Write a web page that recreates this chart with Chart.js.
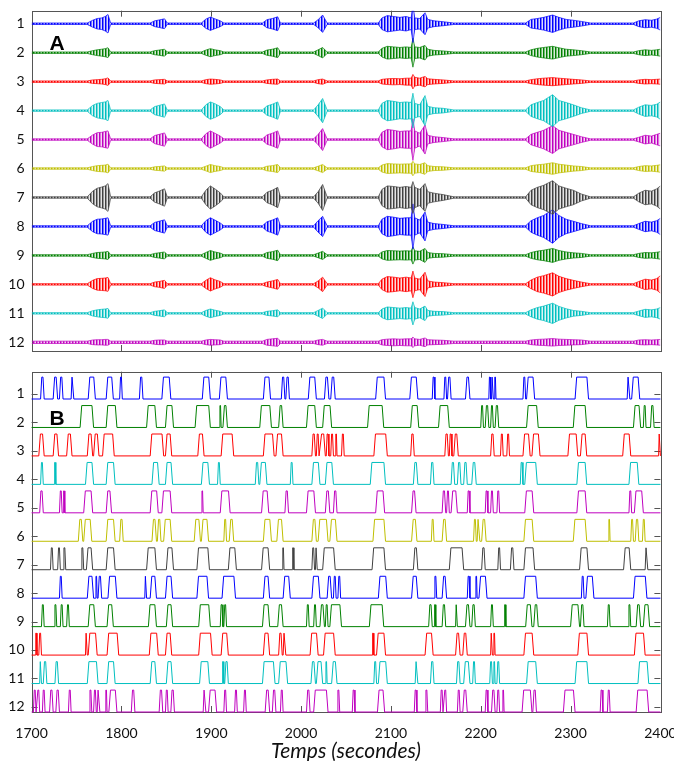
<!DOCTYPE html>
<html>
<head>
<meta charset="utf-8">
<script src="https://cdn.jsdelivr.net/npm/chart.js@4.4.1/dist/chart.umd.min.js"></script>
<style>
  body { margin: 0; background: #fff; }
  canvas { display: block; }
</style>
</head>
<body>
<canvas id="chartA" width="674" height="360"></canvas>
<canvas id="chartB" width="674" height="401"></canvas>
<script>
// x axis ticks (seconds) and lane labels
const timeTicks = [1700, 1800, 1900, 2000, 2100, 2200, 2300, 2400];
const laneLabels = ['1', '2', '3', '4', '5', '6', '7', '8', '9', '10', '11', '12'];
const traceColors = ['#0000ff', '#008000', '#ff0000', '#00bfbf', '#bf00bf', '#bfbf00',
                     '#404040', '#0000ff', '#008000', '#ff0000', '#00bfbf', '#bf00bf'];

// Panel A: envelope of each seismic trace, sampled at these times
const seisTimes = [1700, 1762, 1768, 1773, 1778, 1782, 1785, 1788,
                   1832, 1837, 1842, 1848, 1851,
                   1889, 1894, 1899, 1904, 1910, 1914,
                   1957, 1962, 1968, 1974, 1977,
                   2014, 2019, 2024, 2029,
                   2086, 2090, 2096, 2103, 2110, 2117, 2122.5, 2124.5, 2126.5, 2132, 2138, 2141, 2148, 2158, 2170,
                   2250, 2256, 2263, 2270, 2280, 2287, 2295, 2303, 2312, 2322,
                   2370, 2376, 2383, 2390, 2396, 2400];

const seis1 = [0.025,0.025,0.12,0.18,0.2,0.25,0.32,0.025, 0.025,0.1,0.13,0.17,0.025, 0.025,0.16,0.23,0.17,0.1,0.025,
  0.025,0.14,0.18,0.24,0.025, 0.025,0.14,0.3,0.025,
  0.025,0.2,0.28,0.25,0.22,0.25,0.2,0.65,0.2,0.18,0.38,0.15,0.1,0.07,0.025,
  0.025,0.15,0.18,0.22,0.3,0.22,0.15,0.12,0.08,0.025, 0.025,0.1,0.14,0.12,0.16,0.22];
const seis2 = [0.025,0.025,0.07,0.1,0.12,0.14,0.17,0.025, 0.025,0.07,0.09,0.12,0.025, 0.025,0.09,0.14,0.1,0.07,0.025,
  0.025,0.09,0.12,0.17,0.025, 0.025,0.1,0.18,0.025,
  0.025,0.15,0.22,0.2,0.18,0.2,0.18,0.5,0.2,0.18,0.25,0.12,0.08,0.06,0.025,
  0.025,0.1,0.15,0.18,0.22,0.17,0.12,0.1,0.07,0.025, 0.025,0.07,0.1,0.08,0.1,0.12];
const seis3 = [0.025,0.025,0.06,0.07,0.08,0.1,0.13,0.025, 0.025,0.06,0.07,0.08,0.025, 0.025,0.07,0.09,0.08,0.06,0.025,
  0.025,0.06,0.08,0.09,0.025, 0.025,0.07,0.09,0.025,
  0.025,0.08,0.1,0.11,0.1,0.12,0.12,0.25,0.15,0.12,0.18,0.1,0.08,0.06,0.025,
  0.025,0.07,0.1,0.12,0.14,0.12,0.1,0.08,0.06,0.025, 0.025,0.06,0.08,0.07,0.08,0.09];
const seis4 = [0.025,0.025,0.18,0.25,0.28,0.3,0.35,0.025, 0.025,0.14,0.18,0.23,0.025, 0.025,0.2,0.3,0.24,0.14,0.025,
  0.025,0.16,0.22,0.3,0.025, 0.025,0.2,0.42,0.025,
  0.025,0.25,0.35,0.32,0.28,0.3,0.28,0.6,0.25,0.2,0.52,0.15,0.1,0.08,0.025,
  0.025,0.2,0.28,0.35,0.55,0.35,0.28,0.2,0.1,0.025, 0.025,0.12,0.2,0.18,0.22,0.3];
const seis5 = [0.025,0.025,0.16,0.24,0.25,0.28,0.3,0.025, 0.025,0.14,0.18,0.23,0.025, 0.025,0.2,0.3,0.22,0.12,0.025,
  0.025,0.16,0.22,0.3,0.025, 0.025,0.18,0.38,0.025,
  0.025,0.25,0.35,0.32,0.28,0.3,0.3,0.72,0.3,0.22,0.5,0.15,0.1,0.07,0.025,
  0.025,0.18,0.25,0.32,0.48,0.32,0.25,0.18,0.1,0.025, 0.025,0.08,0.15,0.12,0.18,0.22];
const seis6 = [0.025,0.025,0.07,0.1,0.11,0.12,0.15,0.025, 0.025,0.06,0.07,0.09,0.025, 0.025,0.08,0.14,0.1,0.07,0.025,
  0.025,0.08,0.1,0.14,0.025, 0.025,0.08,0.14,0.025,
  0.025,0.12,0.17,0.16,0.15,0.16,0.16,0.25,0.16,0.14,0.2,0.1,0.07,0.06,0.025,
  0.025,0.1,0.13,0.15,0.2,0.15,0.12,0.09,0.07,0.025, 0.025,0.07,0.1,0.09,0.11,0.13];
const seis7 = [0.025,0.025,0.22,0.32,0.36,0.4,0.48,0.025, 0.025,0.16,0.22,0.3,0.025, 0.025,0.25,0.4,0.3,0.16,0.025,
  0.025,0.18,0.25,0.35,0.025, 0.025,0.2,0.45,0.025,
  0.025,0.28,0.4,0.38,0.35,0.38,0.35,0.55,0.35,0.28,0.48,0.2,0.15,0.1,0.025,
  0.025,0.25,0.35,0.42,0.58,0.4,0.32,0.25,0.12,0.025, 0.025,0.15,0.25,0.22,0.3,0.4];
const seis8 = [0.025,0.025,0.18,0.25,0.26,0.28,0.3,0.025, 0.025,0.14,0.18,0.23,0.025, 0.025,0.2,0.3,0.22,0.12,0.025,
  0.025,0.16,0.22,0.3,0.025, 0.025,0.2,0.35,0.025,
  0.025,0.25,0.35,0.32,0.28,0.3,0.3,0.78,0.3,0.22,0.5,0.15,0.1,0.07,0.025,
  0.025,0.2,0.3,0.38,0.58,0.38,0.25,0.18,0.1,0.025, 0.025,0.1,0.18,0.15,0.2,0.28];
const seis9 = [0.025,0.025,0.07,0.1,0.11,0.12,0.14,0.025, 0.025,0.07,0.09,0.12,0.025, 0.025,0.1,0.17,0.12,0.08,0.025,
  0.025,0.1,0.13,0.18,0.025, 0.025,0.08,0.14,0.025,
  0.025,0.12,0.17,0.16,0.15,0.16,0.15,0.3,0.16,0.14,0.24,0.1,0.07,0.06,0.025,
  0.025,0.1,0.15,0.18,0.24,0.17,0.12,0.09,0.07,0.025, 0.025,0.07,0.1,0.09,0.11,0.13];
const seis10 = [0.025,0.025,0.14,0.2,0.21,0.22,0.24,0.025, 0.025,0.08,0.1,0.14,0.025, 0.025,0.14,0.23,0.16,0.1,0.025,
  0.025,0.08,0.12,0.17,0.025, 0.025,0.12,0.25,0.025,
  0.025,0.18,0.27,0.25,0.22,0.25,0.22,0.46,0.22,0.18,0.42,0.12,0.08,0.06,0.025,
  0.025,0.15,0.25,0.3,0.4,0.28,0.2,0.14,0.08,0.025, 0.025,0.1,0.18,0.15,0.2,0.3];
const seis11 = [0.025,0.025,0.09,0.12,0.14,0.15,0.17,0.025, 0.025,0.07,0.09,0.12,0.025, 0.025,0.1,0.15,0.11,0.07,0.025,
  0.025,0.07,0.09,0.12,0.025, 0.025,0.1,0.18,0.025,
  0.025,0.15,0.22,0.2,0.18,0.2,0.18,0.4,0.2,0.15,0.25,0.1,0.07,0.06,0.025,
  0.025,0.12,0.2,0.25,0.35,0.24,0.16,0.1,0.07,0.025, 0.025,0.08,0.14,0.12,0.15,0.2];
const seis12 = [0.04,0.04,0.08,0.09,0.09,0.1,0.1,0.04, 0.04,0.07,0.08,0.08,0.04, 0.04,0.08,0.1,0.09,0.08,0.04,
  0.04,0.1,0.12,0.14,0.04, 0.04,0.08,0.1,0.04,
  0.04,0.09,0.11,0.12,0.11,0.12,0.12,0.18,0.12,0.1,0.15,0.09,0.08,0.07,0.04,
  0.04,0.08,0.1,0.11,0.13,0.11,0.1,0.09,0.08,0.04, 0.04,0.08,0.09,0.08,0.09,0.1];

// Panel B: on/off intervals [start, end] in seconds for each channel
const pulses1 = [[1710,1714],[1724,1729],[1731,1735],[1744,1747],[1763,1771],[1783,1791],[1798,1801],[1820,1824],
  [1845,1855],[1890,1899],[1909,1918],[1958,1966],[1978,1982],[1983,1987],[2008,2017],[2026,2031],[2033,2038],
  [2083,2094],[2121,2130],[2146,2149],[2159,2162],[2163,2167],[2183,2188],[2209,2211],[2212,2214],[2215,2217],
  [2247,2250],[2251,2260],[2305,2320],[2363,2366],[2368,2377]];
const pulses2 = [[1754,1769],[1783,1795],[1828,1839],[1849,1858],[1882,1899],[1909,1911],[1913,1918],[1954,1967],
  [1975,1980],[2006,2017],[2024,2034],[2074,2092],[2122,2131],[2153,2165],[2200,2203],[2205,2209],[2211,2214],
  [2216,2220],[2251,2264],[2303,2318],[2370,2378],[2381,2384],[2389,2393]];
const pulses3 = [[1708,1714],[1724,1730],[1739,1745],[1762,1768],[1769,1775],[1779,1792],[1832,1847],[1849,1856],
  [1885,1892],[1911,1925],[1958,1970],[1972,1980],[2012,2016],[2017,2020],[2021,2027],[2028,2031],[2033,2036],
  [2038,2040],[2045,2048],[2081,2096],[2122,2126],[2160,2164],[2165,2168],[2170,2175],[2211,2215],[2222,2225],
  [2229,2232],[2247,2255],[2257,2266],[2297,2308],[2311,2318],[2358,2367],[2398,2400]];
const pulses4 = [[1710,1713],[1725,1727],[1760,1769],[1783,1793],[1834,1842],[1849,1857],[1889,1898],[1907,1910],
  [1949,1953],[1954,1962],[1988,1991],[2012,2021],[2027,2036],[2077,2094],[2125,2130],[2144,2148],[2167,2171],
  [2174,2178],[2181,2185],[2190,2195],[2244,2247],[2249,2263],[2307,2318],[2365,2376]];
const pulses5 = [[1709,1713],[1731,1734],[1735,1737],[1758,1768],[1783,1789],[1832,1841],[1845,1856],[1889,1891],
  [1910,1921],[1956,1964],[1982,1986],[2006,2016],[2027,2032],[2036,2040],[2083,2093],[2123,2128],[2157,2161],
  [2162,2165],[2167,2174],[2185,2188],[2205,2208],[2211,2214],[2218,2221],[2249,2259],[2307,2318],[2365,2368],
  [2371,2381]];
const pulses6 = [[1752,1757],[1758,1767],[1783,1793],[1798,1802],[1834,1839],[1840,1844],[1847,1856],[1881,1888],
  [1889,1897],[1914,1917],[1920,1925],[1958,1967],[1973,1980],[2012,2017],[2019,2030],[2032,2040],[2080,2094],
  [2123,2129],[2145,2148],[2157,2162],[2192,2195],[2196,2199],[2201,2206],[2248,2259],[2303,2318],[2342,2344],
  [2367,2370],[2372,2376],[2380,2383]];
const pulses7 = [[1721,1724],[1729,1732],[1735,1738],[1755,1758],[1761,1768],[1783,1793],[1828,1839],[1850,1858],
  [1884,1898],[1919,1928],[1956,1965],[1979,1981],[1990,1992],[2012,2015],[2016,2018],[2024,2038],[2079,2094],
  [2125,2130],[2165,2181],[2201,2205],[2219,2222],[2233,2237],[2248,2260],[2310,2320],[2359,2367],[2383,2386]];
const pulses8 = [[1731,1734],[1762,1769],[1771,1773],[1774,1778],[1785,1795],[1826,1828],[1832,1839],[1849,1857],
  [1884,1897],[1912,1927],[1958,1965],[1980,1988],[2012,2021],[2029,2034],[2036,2039],[2041,2044],[2086,2096],
  [2123,2130],[2148,2151],[2157,2162],[2185,2188],[2194,2196],[2198,2207],[2248,2263],[2312,2315],[2317,2326],
  [2370,2385]];
const pulses9 = [[1711,1714],[1725,1728],[1732,1735],[1739,1742],[1763,1771],[1784,1791],[1830,1839],[1850,1857],
  [1886,1899],[1910,1913],[1914,1917],[1957,1965],[1974,1980],[2006,2009],[2014,2017],[2021,2026],[2027,2030],
  [2032,2045],[2076,2092],[2142,2146],[2148,2150],[2157,2161],[2172,2174],[2183,2188],[2190,2194],[2211,2214],
  [2226,2228],[2250,2257],[2259,2264],[2300,2310],[2311,2315],[2341,2344],[2364,2367],[2373,2378],[2381,2388]];
const pulses10 = [[1704,1706],[1708,1711],[1760,1762],[1763,1773],[1784,1797],[1831,1841],[1849,1856],[1886,1901],
  [1911,1919],[1958,1965],[1975,1979],[1980,1983],[2010,2019],[2025,2038],[2079,2081],[2084,2094],[2138,2147],
  [2172,2177],[2180,2185],[2211,2213],[2214,2216],[2248,2259],[2308,2320],[2371,2383]];
const pulses11 = [[1709,1711],[1713,1717],[1726,1730],[1762,1774],[1784,1793],[1832,1839],[1850,1857],[1887,1898],
  [1912,1914],[1915,1919],[1957,1971],[1975,1985],[2011,2016],[2017,2024],[2027,2029],[2034,2040],[2081,2084],
  [2086,2096],[2127,2130],[2144,2148],[2173,2177],[2181,2188],[2191,2194],[2210,2213],[2214,2216],[2218,2221],
  [2251,2263],[2305,2320],[2375,2387]];
const pulses12 = [[1702,1705],[1706,1709],[1712,1715],[1720,1724],[1727,1731],[1741,1744],[1764,1767],[1769,1772],
  [1773,1776],[1782,1784],[1786,1795],[1811,1815],[1842,1846],[1849,1852],[1855,1859],[1891,1894],[1897,1906],
  [1914,1917],[1926,1929],[1936,1939],[1960,1965],[1968,1972],[1977,1980],[2006,2010],[2014,2030],[2040,2043],
  [2057,2060],[2085,2093],[2126,2129],[2138,2141],[2155,2158],[2159,2162],[2174,2177],[2180,2185],[2205,2208],
  [2212,2216],[2218,2221],[2224,2226],[2246,2257],[2258,2262],[2292,2305],[2333,2336],[2341,2344],[2373,2387]];

const seisRows = [seis1, seis2, seis3, seis4, seis5, seis6, seis7, seis8, seis9, seis10, seis11, seis12];
const pulseRows = [pulses1, pulses2, pulses3, pulses4, pulses5, pulses6, pulses7, pulses8, pulses9, pulses10, pulses11, pulses12];
const laneValues = laneLabels.map((_, i) => 12 - i); // channel 1 on top

function fade(hex, a) {
  const n = parseInt(hex.slice(1), 16);
  return `rgba(${n >> 16}, ${(n >> 8) & 255}, ${n & 255}, ${a})`;
}

// vertical hatch so the filled envelope reads like a dense wiggle
function hatch(hex) {
  const c = document.createElement('canvas');
  c.width = 3; c.height = 1;
  const g = c.getContext('2d');
  g.fillStyle = hex; g.fillRect(0, 0, 1, 1);
  g.fillStyle = fade(hex, 0.55); g.fillRect(1, 0, 1, 1);
  g.fillStyle = fade(hex, 0.15); g.fillRect(2, 0, 1, 1);
  return g.createPattern(c, 'repeat');
}

// Panel A datasets: upper and lower envelope, filled between them
const datasetsA = [];
seisRows.forEach((amp, i) => {
  const lane = laneValues[i];
  datasetsA.push({
    data: seisTimes.map((t, j) => ({ x: t, y: lane + amp[j] })),
    borderColor: traceColors[i], borderWidth: 0.7, pointRadius: 0, fill: false
  });
  datasetsA.push({
    data: seisTimes.map((t, j) => ({ x: t, y: lane - amp[j] })),
    borderColor: traceColors[i], borderWidth: 0.7, pointRadius: 0,
    fill: '-1', backgroundColor: hatch(traceColors[i])
  });
});

// Panel B datasets: trapezoid pulses sitting on each lane baseline
function pulseLine(list, lane) {
  const base = lane - 0.18, top = lane + 0.59;
  const pts = [{ x: 1700, y: base }];
  list.forEach(([s, e]) => {
    const r = Math.min(1.8, (e - s) / 3);
    pts.push({ x: s, y: base }, { x: s + r, y: top }, { x: e - r, y: top }, { x: e, y: base });
  });
  pts.push({ x: 2400, y: base });
  return pts;
}
const datasetsB = pulseRows.map((list, i) => ({
  data: pulseLine(list, laneValues[i]),
  borderColor: traceColors[i], borderWidth: 1, pointRadius: 0, fill: false, clip: false
}));

const framePlugin = {
  id: 'frame',
  beforeDatasetsDraw(chart, args, opts) {
    const { ctx, chartArea: a, scales: { x, y } } = chart;
    ctx.save();
    ctx.strokeStyle = '#555';
    ctx.lineWidth = 1;
    ctx.strokeRect(Math.round(a.left) + 0.5, Math.round(a.top) + 0.5,
                   Math.round(a.right - a.left), Math.round(a.bottom - a.top));
    ctx.beginPath();
    timeTicks.slice(1, -1).forEach(t => {
      const px = Math.round(x.getPixelForValue(t)) + 0.5;
      ctx.moveTo(px, a.top); ctx.lineTo(px, a.top + 6);
      ctx.moveTo(px, a.bottom); ctx.lineTo(px, a.bottom - 6);
    });
    if (opts.laneTicks) {
      laneValues.forEach(v => {
        const py = Math.round(y.getPixelForValue(v)) + 0.5;
        ctx.moveTo(a.left, py); ctx.lineTo(a.left + 6, py);
        ctx.moveTo(a.right, py); ctx.lineTo(a.right - 6, py);
      });
    }
    ctx.stroke();
    ctx.restore();
  },
  afterDatasetsDraw(chart, args, opts) {
    const { ctx, chartArea: a } = chart;
    ctx.save();
    ctx.fillStyle = '#000';
    ctx.font = 'bold 21px "Liberation Sans"';
    ctx.fillText(opts.letter, a.left + 18, a.top + opts.letterDy);
    ctx.restore();
  }
};

const tickFont = { family: 'Lato', size: 14 };

function laneAxis(min, max) {
  return {
    min: min, max: max,
    afterBuildTicks: s => { s.ticks = laneValues.map(v => ({ value: v })); },
    afterFit: s => { s.width = 31.6; s.paddingTop = 0; s.paddingBottom = 0; },
    grid: { display: false, drawTicks: false },
    border: { display: false },
    ticks: { padding: 7, color: '#111', font: tickFont, callback: v => laneLabels[12 - v] }
  };
}

new Chart(document.getElementById('chartA'), {
  type: 'line',
  data: { datasets: datasetsA },
  options: {
    responsive: false,
    animation: false,
    layout: { padding: { top: 10.7, right: 13.6, bottom: 9, left: 0 } },
    elements: { line: { tension: 0 } },
    plugins: { legend: { display: false }, tooltip: { enabled: false }, frame: { letter: 'A', letterDy: 39 } },
    scales: {
      x: { type: 'linear', min: 1700, max: 2400, display: false },
      y: laneAxis(0.7, 12.45)
    }
  },
  plugins: [framePlugin]
});

new Chart(document.getElementById('chartB'), {
  type: 'line',
  data: { datasets: datasetsB },
  options: {
    responsive: false,
    animation: false,
    layout: { padding: { top: 11.7, right: 13.6, bottom: 0, left: 0 } },
    elements: { line: { tension: 0 } },
    plugins: { legend: { display: false }, tooltip: { enabled: false },
               frame: { letter: 'B', letterDy: 53, laneTicks: true } },
    scales: {
      x: {
        type: 'linear', min: 1700, max: 2400,
        afterBuildTicks: s => { s.ticks = timeTicks.map(v => ({ value: v })); },
        afterFit: s => { s.height = 49; s.paddingLeft = 0; s.paddingRight = 0; },
        grid: { display: false, drawTicks: false },
        border: { display: false },
        ticks: { padding: 13, color: '#111', font: tickFont, maxRotation: 0, autoSkip: false,
                 callback: v => String(v) },
        title: { display: true, text: 'Temps (secondes)', color: '#111',
                 font: { family: 'Lato', size: 21, style: 'italic', lineHeight: 0.9 },
                 padding: { top: 0, bottom: 0 } }
      },
      y: laneAxis(0.82, 12.78)
    }
  },
  plugins: [framePlugin]
});
</script>
</body>
</html>
